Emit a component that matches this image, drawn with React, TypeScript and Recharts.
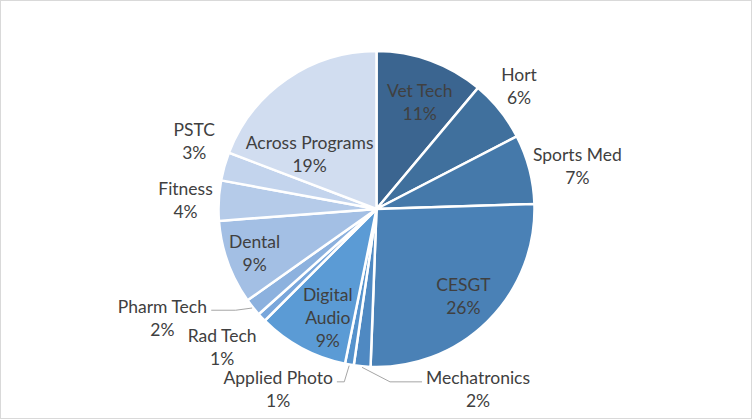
import { PieChart, Pie, Cell } from 'recharts';

const programs = [
  'Vet Tech',
  'Hort',
  'Sports Med',
  'CESGT',
  'Mechatronics',
  'Applied Photo',
  'Digital Audio',
  'Rad Tech',
  'Pharm Tech',
  'Dental',
  'Fitness',
  'PSTC',
  'Across Programs',
];
const shares = [11.1, 6.3, 7.1, 26.1, 1.7, 0.9, 9.3, 0.9, 1.8, 8.6, 4.1, 2.9, 19.2];
const sliceColors = [
  '#3b6590',
  '#40709d',
  '#4579aa',
  '#4a81b6',
  '#4f89c2',
  '#5592cc',
  '#5b9bd5',
  '#78a6db',
  '#8cb1de',
  '#a3bfe4',
  '#b5cbe9',
  '#c3d4ed',
  '#d1ddf0',
];

const data = programs.map((name, i) => ({ name, value: shares[i] }));

// label placement: radius factor, angle nudge from slice middle, leader line, word wrap
const labelPlace: Record<string, { r: number; da: number; lead?: boolean; wrap?: boolean }> = {
  'Vet Tech': { r: 0.73, da: -2 },
  Hort: { r: 1.19, da: 2 },
  'Sports Med': { r: 1.3, da: -2.5 },
  CESGT: { r: 0.78, da: 0 },
  Mechatronics: { r: 1.31, da: 34.6, lead: true },
  'Applied Photo': { r: 1.3, da: -18.7, lead: true },
  'Digital Audio': { r: 0.75, da: 4, wrap: true },
  'Rad Tech': { r: 1.31, da: -1.6 },
  'Pharm Tech': { r: 1.52, da: -11.6, lead: true },
  Dental: { r: 0.82, da: 0 },
  Fitness: { r: 1.21, da: 0.4 },
  PSTC: { r: 1.23, da: -4.7 },
  'Across Programs': { r: 0.55, da: 15.8 },
};

const FONT = 'Lato, "Open Sans", sans-serif';
const FONT_SIZE = 17.5;
const LINE_H = 23;
const RAD = Math.PI / 180;

let measureCtx: CanvasRenderingContext2D | null = null;
function textWidth(s: string) {
  if (!measureCtx) {
    measureCtx = document.createElement('canvas').getContext('2d');
  }
  if (!measureCtx) return s.length * 8.5;
  measureCtx.font = `${FONT_SIZE}px ${FONT}`;
  return measureCtx.measureText(s).width;
}

function renderLabel(props: any) {
  const { cx, cy, midAngle, outerRadius, percent, name } = props;
  const place = labelPlace[name] ?? { r: 1.2, da: 0 };
  const a = midAngle + place.da;
  const lx = cx + Math.cos(-a * RAD) * outerRadius * place.r;
  const ly = cy + Math.sin(-a * RAD) * outerRadius * place.r;
  const lines = [...(place.wrap ? name.split(' ') : [name]), `${Math.round(percent * 100)}%`];
  const top = ly - ((lines.length - 1) * LINE_H) / 2;

  let leader = null;
  if (place.lead) {
    const sx = cx + Math.cos(-midAngle * RAD) * (outerRadius + 1);
    const sy = cy + Math.sin(-midAngle * RAD) * (outerRadius + 1);
    const w = textWidth(lines[0]);
    const right = lx > sx;
    const ex = right ? lx - w / 2 - 4 : lx + w / 2 + 4;
    const ey = top + 4;
    const h = Math.min(Math.abs(ex - sx) * 0.6, 32);
    const bx = right ? ex - h : ex + h;
    leader = (
      <polyline
        points={`${sx},${sy} ${bx},${ey} ${ex},${ey}`}
        fill="none"
        stroke="#a6a6a6"
        strokeWidth={1}
      />
    );
  }

  return (
    <g key={`lbl-${name}`}>
      {leader}
      {lines.map((t, i) => (
        <text
          key={i}
          x={lx}
          y={top + i * LINE_H}
          textAnchor="middle"
          dominantBaseline="central"
          fill="#404040"
          fontSize={FONT_SIZE}
          fontFamily={FONT}
        >
          {t}
        </text>
      ))}
    </g>
  );
}

export default function App() {
  return (
    <div
      style={{
        position: 'absolute',
        left: 0,
        top: 0,
        width: 752,
        height: 419,
        background: '#fff',
        boxShadow: 'inset 0 0 0 1px #d9d9d9',
      }}
    >
      <PieChart width={752} height={419} margin={{ top: 0, right: 0, bottom: 0, left: 0 }}>
        <Pie
          data={data}
          dataKey="value"
          nameKey="name"
          cx={376.5}
          cy={209}
          outerRadius={158}
          startAngle={90}
          endAngle={-270}
          stroke="#ffffff"
          strokeWidth={2.5}
          label={renderLabel}
          labelLine={false}
          isAnimationActive={false}
        >
          {data.map((d, i) => (
            <Cell key={d.name} fill={sliceColors[i]} />
          ))}
        </Pie>
      </PieChart>
    </div>
  );
}
